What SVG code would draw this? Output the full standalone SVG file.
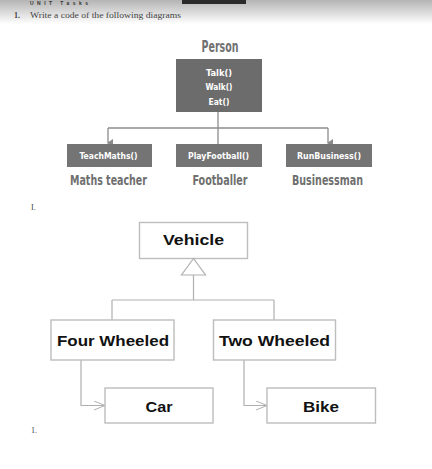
<svg xmlns="http://www.w3.org/2000/svg" width="432" height="469" viewBox="0 0 432 469">
<defs>
<linearGradient id="hdr" x1="0" y1="0" x2="0" y2="1">
<stop offset="0" stop-color="#b4b4b4"/>
<stop offset="1" stop-color="#ffffff"/>
</linearGradient>
<marker id="down" markerWidth="8" markerHeight="6" refX="4" refY="5" orient="auto-start-reverse" markerUnits="userSpaceOnUse" viewBox="0 0 8 6">
<path d="M0,0 L8,0 L4,6 Z" fill="#8a8a8a"/>
</marker>
<marker id="open" markerWidth="12" markerHeight="10" refX="11" refY="5" orient="auto" markerUnits="userSpaceOnUse" viewBox="0 0 12 10">
<path d="M0,0.5 L11,5 L0,9.5" fill="none" stroke="#b0b0b0" stroke-width="1"/>
</marker>
</defs>
<style>
.cond{font-family:"DejaVu Sans Condensed","Liberation Sans Narrow","Roboto",sans-serif;font-weight:bold;font-stretch:condensed}
.wt{fill:#ffffff;font-size:9px}
.lbl{fill:#6f6f6f;font-size:14px}
.pbox{fill:#6c6c6c}
.cbox{fill:#747474}
.con{fill:none;stroke:#8c8c8c;stroke-width:1.3}
.ubox{fill:#ffffff;stroke:#bdbdbd;stroke-width:1.4}
.ucon{fill:none;stroke:#b0b0b0;stroke-width:1.2}
.ut{font-family:"Liberation Sans",Arial,sans-serif;font-weight:bold;font-size:14px;fill:#111111}
.ser{font-family:"Liberation Serif","Times New Roman",serif;fill:#444444}
</style>
<rect width="432" height="469" fill="#ffffff"/>
<rect x="0" y="0" width="432" height="24" fill="url(#hdr)"/>
<rect x="182" y="0" width="64" height="4" fill="#2a2a2a"/>
<text x="30" y="4.5" font-family="Liberation Sans,Arial,sans-serif" font-weight="bold" font-size="5" fill="#333333" textLength="58" lengthAdjust="spacing">UNIT   Tasks</text>
<text class="ser" x="14" y="18" font-size="8" font-weight="bold">1.</text>
<text class="ser" x="30" y="18" font-size="8" textLength="151" lengthAdjust="spacingAndGlyphs">Write a code of the following diagrams</text>

<g id="connectors">
<path class="con" d="M218,112 V128"/>
<path class="con" d="M108,128 H328"/>
<path class="con" d="M108,128 V143" marker-end="url(#down)"/>
<path class="con" d="M218,128 V144"/>
<path class="con" d="M328,128 V143" marker-end="url(#down)"/>
<path class="ucon" d="M193.5,275 V300 M112,300 H274 M112,300 V320 M274,300 V320"/>
<path class="ucon" d="M81,360 V405.5 H105" marker-end="url(#open)"/>
<path class="ucon" d="M244,360 V405.5 H267" marker-end="url(#open)"/>
</g>

<g id="person">
<text class="cond" x="220" y="52" font-size="15" fill="#707070" text-anchor="middle" textLength="37" lengthAdjust="spacingAndGlyphs">Person</text>
<rect class="pbox" x="176" y="59" width="86" height="53"/>
<text class="cond wt" x="219" y="75.5" text-anchor="middle" textLength="26" lengthAdjust="spacingAndGlyphs">Talk()</text>
<text class="cond wt" x="219" y="90" text-anchor="middle" textLength="27" lengthAdjust="spacingAndGlyphs">Walk()</text>
<text class="cond wt" x="219" y="105" text-anchor="middle" textLength="21" lengthAdjust="spacingAndGlyphs">Eat()</text>
</g>

<g id="maths-teacher">
<rect class="cbox" x="67" y="144" width="85" height="23"/>
<text class="cond wt" x="108.5" y="159" text-anchor="middle" textLength="58" lengthAdjust="spacingAndGlyphs">TeachMaths()</text>
<text class="cond lbl" x="108.5" y="185" text-anchor="middle" textLength="77" lengthAdjust="spacingAndGlyphs">Maths teacher</text>
</g>

<g id="footballer">
<rect class="cbox" x="176" y="144" width="86" height="23"/>
<text class="cond wt" x="218.5" y="159" text-anchor="middle" textLength="61" lengthAdjust="spacingAndGlyphs">PlayFootball()</text>
<text class="cond lbl" x="220" y="185" text-anchor="middle" textLength="55" lengthAdjust="spacingAndGlyphs">Footballer</text>
</g>

<g id="businessman">
<rect class="cbox" x="286" y="144" width="86" height="23"/>
<text class="cond wt" x="329" y="159" text-anchor="middle" textLength="64" lengthAdjust="spacingAndGlyphs">RunBusiness()</text>
<text class="cond lbl" x="327.5" y="185" text-anchor="middle" textLength="71" lengthAdjust="spacingAndGlyphs">Businessman</text>
</g>

<text class="ser" x="31" y="210" font-size="8">I.</text>

<g id="vehicle">
<rect class="ubox" x="139.5" y="222.5" width="108" height="36"/>
<text class="ut" x="193.5" y="245" text-anchor="middle" textLength="61" lengthAdjust="spacingAndGlyphs">Vehicle</text>
<path d="M193.5,258.5 L181.5,275 H205.5 Z" fill="#ffffff" stroke="#b0b0b0" stroke-width="1.2"/>
</g>

<g id="four-wheeled">
<rect class="ubox" x="51" y="320" width="123" height="40"/>
<text class="ut" x="113" y="346" text-anchor="middle" textLength="112" lengthAdjust="spacingAndGlyphs">Four Wheeled</text>
</g>

<g id="two-wheeled">
<rect class="ubox" x="213.5" y="320" width="122" height="40"/>
<text class="ut" x="274.5" y="346" text-anchor="middle" textLength="111" lengthAdjust="spacingAndGlyphs">Two Wheeled</text>
</g>

<g id="car">
<rect class="ubox" x="105" y="388" width="108" height="35"/>
<text class="ut" x="159" y="411.5" text-anchor="middle" textLength="27" lengthAdjust="spacingAndGlyphs">Car</text>
</g>

<g id="bike">
<rect class="ubox" x="267" y="388" width="108.5" height="35"/>
<text class="ut" x="321" y="411.5" text-anchor="middle" textLength="36" lengthAdjust="spacingAndGlyphs">Bike</text>
</g>

<text class="ser" x="31" y="433" font-size="8">1.</text>
</svg>
